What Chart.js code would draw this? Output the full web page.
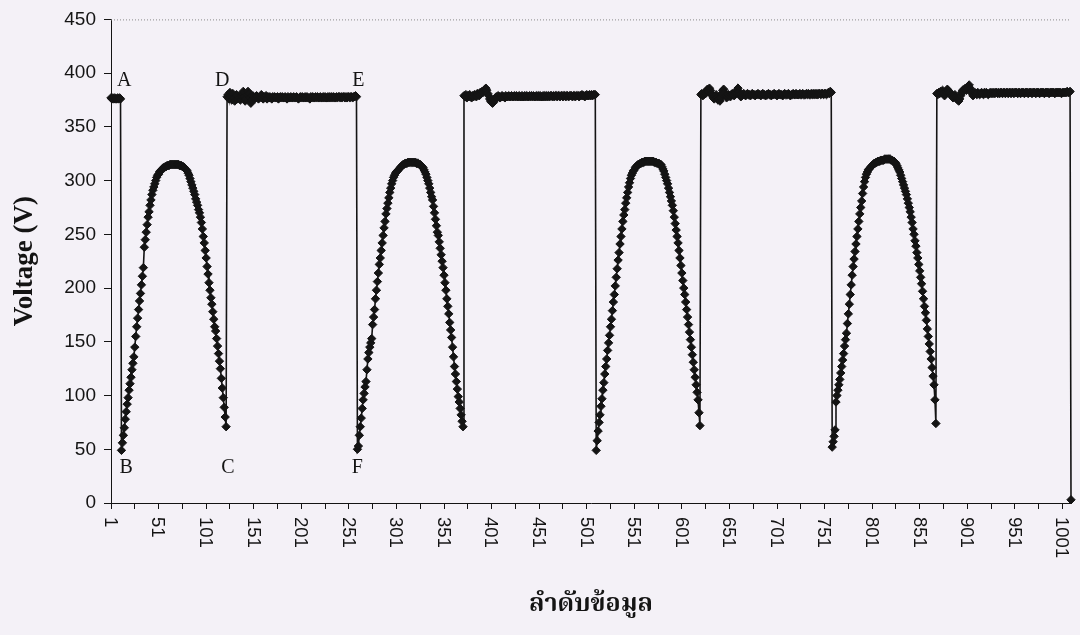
<!DOCTYPE html>
<html>
<head>
<meta charset="utf-8">
<script src="https://cdn.jsdelivr.net/npm/chart.js@4.4.1/dist/chart.umd.min.js"></script>
<style>
  html, body { margin: 0; padding: 0; background: #f4f1f7; }
  #wrap { width: 1080px; height: 635px; position: relative; }
  canvas { display: block; }
</style>
</head>
<body>
<div id="wrap"><canvas id="chart" width="1080" height="635"></canvas></div>
<script>
// Recorded voltage, one reading per sample number, split into segments
const flatA = [377,376,377,376,377,376,376,377,376,377,376];

const swing1 = [
  49,56,63,70,78,85,92,98,105,111,
  117,124,130,136,145,155,164,172,180,188,
  195,203,211,219,238,245,252,259,266,271,
  277,282,287,291,294,297,300,303,305,306,
  308,309,310,311,312,312,313,313,314,314,
  314,315,315,315,315,315,315,315,315,315,
  315,314,314,314,313,313,312,311,310,309,
  307,305,302,299,296,293,290,287,283,280,
  277,273,270,266,261,255,248,242,235,228,
  220,213,205,198,191,185,178,171,164,160,
  153,146,139,132,125,116,107,98,89,80,71
];

const flatD = [
  378,380,376,382,379,375,381,377,374,379,
  380,376,378,377,375,379,381,383,378,374,
  376,380,383,381,377,372,375,379,378,376,
  377,379,378,376,377,378,380,377,376,378,
  377,379,376,378,377,378,377,376,378,377,
  378,377,377,378,376,377,378,377,378,377,
  377,378,377,376,378,377,377,378,377,377,
  378,377,377,378,377,376,377,378,377,378,
  377,377,378,377,378,377,377,376,378,377,
  378,377,377,378,377,378,377,377,378,377,
  377,378,377,378,377,377,378,377,378,377,
  378,377,378,377,377,378,377,378,378,377,
  378,377,378,378,377,378,377,378,378,377,
  378,378,377,378,378,379,378
];

const swing2 = [
  50,53,63,71,79,88,96,102,108,113,
  124,134,140,145,149,153,166,173,180,190,
  198,206,214,222,228,235,242,249,256,262,
  269,274,279,284,289,293,297,300,303,305,
  307,308,309,310,311,312,313,314,315,315,
  316,316,316,317,317,317,317,317,317,317,
  317,317,316,316,316,315,315,314,313,312,
  310,308,306,303,300,297,293,289,285,282,
  276,270,264,258,252,249,243,237,231,225,
  219,212,205,198,190,183,176,168,161,154,
  145,136,127,120,113,106,99,94,88,82,
  76,71
];

const flat2 = [
  379,378,380,377,379,378,380,378,377,379,
  378,380,379,378,381,380,379,382,381,383,
  382,384,385,386,384,381,379,376,374,373,
  372,373,375,377,378,377,379,378,377,378,
  379,378,378,377,379,378,378,379,378,378,
  379,378,378,379,378,379,378,378,379,378,
  378,379,378,378,379,378,379,378,378,379,
  378,379,378,379,378,378,379,378,379,378,
  379,378,378,379,378,379,378,379,378,379,
  378,379,379,378,379,378,379,379,378,379,
  379,378,379,379,378,379,379,378,379,379,
  378,379,379,379,378,379,379,378,379,379,
  379,378,379,379,380,379,379,378,379,380,
  379,379,380,379,380,379,380,380,380
];

const swing3 = [
  49,58,67,75,82,90,97,105,112,120,
  127,134,142,149,156,164,171,179,187,194,
  202,210,218,226,233,241,248,255,262,268,
  273,279,284,289,294,298,302,305,307,309,
  310,312,313,314,315,315,316,316,317,317,
  317,318,318,318,318,318,318,318,318,318,
  318,317,317,317,316,316,316,315,315,313,
  311,309,306,303,300,297,293,289,285,281,
  277,272,266,260,254,248,242,235,228,221,
  214,207,200,194,187,180,173,166,159,152,
  145,138,131,124,117,110,103,96,84,72
];

const flat3 = [
  380,381,379,380,382,381,384,385,383,386,
  384,381,379,377,376,378,380,377,375,376,
  374,377,381,384,385,382,379,377,378,380,
  379,378,380,381,380,379,381,382,384,386,
  383,380,378,379,380,381,380,379,380,381,
  380,380,379,380,381,380,380,379,380,380,
  381,380,380,379,380,381,380,380,379,380,
  380,381,380,380,379,380,380,381,380,380,
  379,380,381,380,380,380,379,380,381,380,
  380,380,381,380,379,380,380,381,380,380,
  381,380,380,380,381,380,380,381,380,380,
  380,381,380,381,380,380,381,380,381,380,
  381,380,381,380,381,381,380,381,381,380,
  381,381,380,381,382,381,383,382
];

const swing4 = [
  52,57,62,68,94,100,105,110,115,121,
  127,133,139,146,152,158,167,176,185,194,
  203,212,220,227,234,241,248,255,262,269,
  275,281,288,294,299,303,306,308,310,311,
  312,313,314,315,316,316,317,317,318,318,
  318,319,319,319,319,320,320,320,320,320,
  320,320,319,319,318,318,317,316,314,312,
  310,308,305,302,299,296,293,290,287,283,
  279,275,271,266,261,255,250,244,239,233,
  228,222,216,210,204,197,190,183,177,170,
  162,155,148,141,134,126,118,110,96,74
];

const flat4 = [
  381,380,382,381,383,382,384,381,379,380,
  383,385,384,382,380,381,379,377,378,380,
  378,376,375,374,376,379,382,384,383,385,
  386,384,386,388,389,386,383,381,379,380,
  382,381,380,382,381,380,381,382,381,380,
  382,381,382,381,380,381,382,381,382,381,
  382,381,382,382,381,382,381,382,382,381,
  382,382,381,382,382,381,382,382,381,382,
  382,381,382,382,382,381,382,382,381,382,
  382,382,381,382,382,382,381,382,382,382,
  381,382,382,382,381,382,382,382,381,382,
  382,382,382,381,382,382,382,382,381,382,
  382,382,382,382,381,382,382,382,382,382,
  382,381,382,382,382,382,382,383,382,382,383
];

const tailValue = [3];

const voltage = [].concat(flatA, swing1, flatD, swing2, flat2, swing3, flat3, swing4, flat4, tailValue);

// Sample numbers 1..N for the horizontal axis
const sampleNo = voltage.map((_, i) => i + 1);

// Labelled sample numbers and axis values
const xTickLabels = ['1','51','101','151','201','251','301','351','401','451','501',
                     '551','601','651','701','751','801','851','901','951','1001'];
const yTickValues = [0, 50, 100, 150, 200, 250, 300, 350, 400, 450];

// Letters marking the switching points, placed in data units
const pointLetters = [
  { text: 'A', x: 15,  y: 393 },
  { text: 'B', x: 17,  y: 33 },
  { text: 'C', x: 124, y: 33 },
  { text: 'D', x: 118, y: 393 },
  { text: 'E', x: 261, y: 393 },
  { text: 'F', x: 260, y: 33 }
];

const INK = '#141414';

const decorations = {
  id: 'decorations',
  afterDraw(chart) {
    const { ctx, chartArea, scales } = chart;
    const xs = scales.x, ys = scales.y;
    ctx.save();

    // dotted top edge of the plot area
    ctx.strokeStyle = '#8a8a8a';
    ctx.lineWidth = 1;
    ctx.setLineDash([1, 2]);
    ctx.beginPath();
    ctx.moveTo(chartArea.left, chartArea.top + 0.5);
    ctx.lineTo(chartArea.right, chartArea.top + 0.5);
    ctx.stroke();
    ctx.setLineDash([]);

    // sample-number labels, turned a quarter clockwise
    ctx.fillStyle = INK;
    ctx.font = '18.5px "Liberation Sans", Arial, sans-serif';
    ctx.textAlign = 'left';
    ctx.textBaseline = 'middle';
    xTickLabels.forEach(lbl => {
      const px = xs.getPixelForValue(Number(lbl));
      ctx.save();
      ctx.translate(px, xs.top + 14);
      ctx.rotate(Math.PI / 2);
      ctx.fillText(lbl, 0, 1);
      ctx.restore();
    });

    // point letters
    ctx.font = '20px "Liberation Serif", "Times New Roman", serif';
    ctx.textAlign = 'center';
    ctx.textBaseline = 'middle';
    pointLetters.forEach(p => {
      ctx.fillText(p.text, xs.getPixelForValue(p.x), ys.getPixelForValue(p.y));
    });
    ctx.restore();
  }
};

const minorTicks = [];
for (let v = 1; v <= 1001; v += 25) minorTicks.push(v);

new Chart(document.getElementById('chart'), {
  type: 'line',
  data: {
    labels: sampleNo,
    datasets: [{
      data: voltage,
      borderColor: INK,
      borderWidth: 1.6,
      backgroundColor: INK,
      pointStyle: 'rectRot',
      pointRadius: 4.2,
      pointBorderWidth: 1,
      pointBorderColor: INK,
      pointBackgroundColor: INK,
      tension: 0,
      clip: false
    }]
  },
  options: {
    responsive: false,
    animation: false,
    devicePixelRatio: 1,
    layout: { padding: { top: 17, right: 9, left: 0, bottom: 0 } },
    plugins: { legend: { display: false }, tooltip: { enabled: false } },
    scales: {
      x: {
        type: 'linear',
        min: 1,
        max: voltage.length,
        afterBuildTicks: s => { s.ticks = minorTicks.map(v => ({ value: v })); },
        afterFit: s => { s.height = 132; },
        ticks: { display: false },
        grid: { drawOnChartArea: false, drawTicks: true, tickLength: 6, color: INK, lineWidth: 1 },
        border: { display: true, color: INK, width: 1 },
        title: {
          display: true,
          text: 'ลำดับข้อมูล',
          color: INK,
          font: { family: '"Noto Serif Thai", "Noto Sans Thai", Loma, "Liberation Serif", serif', size: 25, weight: 'bold' },
          padding: { top: 0, bottom: 13 }
        }
      },
      y: {
        type: 'linear',
        min: 0,
        max: 450,
        afterBuildTicks: s => { s.ticks = yTickValues.map(v => ({ value: v })); },
        afterFit: s => { s.width = 111; },
        ticks: {
          color: INK,
          padding: 8,
          font: { family: '"Liberation Sans", Arial, sans-serif', size: 19 }
        },
        grid: { drawOnChartArea: false, drawTicks: true, tickLength: 7, color: INK, lineWidth: 1 },
        border: { display: true, color: INK, width: 1 },
        title: {
          display: true,
          text: 'Voltage (V)',
          color: INK,
          font: { family: '"Liberation Serif", "Times New Roman", serif', size: 27, weight: 'bold' },
          padding: { top: 9, bottom: 0 }
        }
      }
    }
  },
  plugins: [decorations]
});
</script>
</body>
</html>
